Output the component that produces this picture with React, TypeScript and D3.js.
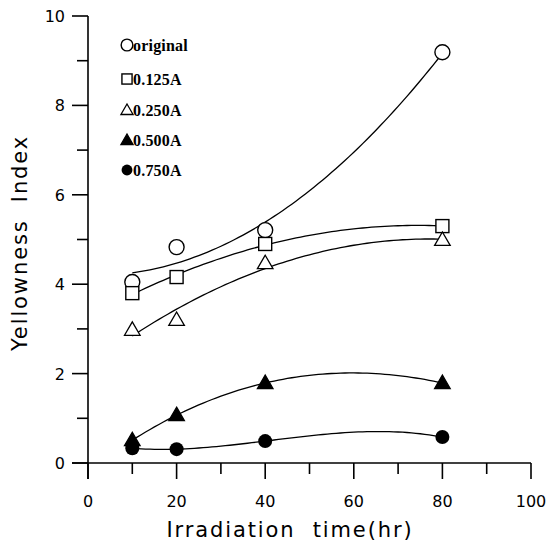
import * as d3 from 'd3';

const hours = [10, 20, 40, 80];
const original = [4.05, 4.83, 5.21, 9.19];
const a0125 = [3.8, 4.16, 4.9, 5.3];
const a0250 = [2.98, 3.2, 4.47, 4.99];
const a0500 = [0.51, 1.07, 1.79, 1.79];
const a0750 = [0.33, 0.31, 0.49, 0.58];

const seriesNames = ['original', '0.125A', '0.250A', '0.500A', '0.750A'];
const seriesValues = [original, a0125, a0250, a0500, a0750];
const markers = ['circle', 'square', 'triangle', 'triangleFilled', 'circleFilled'];
// polynomial order of each fitted curve
const fitOrder = [2, 2, 2, 3, 3];

const xTicks = [0, 20, 40, 60, 80, 100];
const yTicks = [0, 2, 4, 6, 8, 10];

// least squares polynomial fit (normal equations + gaussian elimination)
function polyFit(xs: number[], ys: number[], deg: number) {
  const n = deg + 1;
  const m: number[][] = [];
  for (let r = 0; r < n; r++) {
    const row: number[] = [];
    for (let c = 0; c < n; c++) row.push(d3.sum(xs, (x) => x ** (r + c)));
    row.push(d3.sum(xs, (x, i) => ys[i] * x ** r));
    m.push(row);
  }
  for (let c = 0; c < n; c++) {
    for (let r = c + 1; r < n; r++) {
      const f = m[r][c] / m[c][c];
      for (let k = c; k <= n; k++) m[r][k] -= f * m[c][k];
    }
  }
  const coef = new Array(n).fill(0);
  for (let r = n - 1; r >= 0; r--) {
    let s = m[r][n];
    for (let k = r + 1; k < n; k++) s -= m[r][k] * coef[k];
    coef[r] = s / m[r][r];
  }
  return (x: number) => coef.reduce((acc, c, i) => acc + c * x ** i, 0);
}

function Marker({ kind, x, y, s = 1 }: { kind: string; x: number; y: number; s?: number }) {
  if (kind === 'circle') return <circle cx={x} cy={y} r={7.5 * s} fill="white" stroke="black" strokeWidth={1.4} />;
  if (kind === 'circleFilled') return <circle cx={x} cy={y} r={7 * s} fill="black" />;
  if (kind === 'square') {
    const h = 6.5 * s;
    return <rect x={x - h} y={y - h} width={2 * h} height={2 * h} fill="white" stroke="black" strokeWidth={1.4} />;
  }
  const fill = kind === 'triangleFilled' ? 'black' : 'white';
  const p = d3.symbol(d3.symbolTriangle, 105 * s * s)();
  return <path d={p || ''} transform={`translate(${x},${y + 1})`} fill={fill} stroke="black" strokeWidth={1.3} />;
}

export default function App() {
  const width = 550;
  const height = 546;
  const x = d3.scaleLinear().domain([0, 100]).range([88, 531]);
  const y = d3.scaleLinear().domain([0, 10]).range([463, 16]);

  const curves = seriesValues.map((vals, i) => {
    const f = polyFit(hours, vals, fitOrder[i]);
    const pts = d3.range(10, 80.01, 1).map((h) => [h, f(h)] as [number, number]);
    return d3.line().x((d) => x(d[0])).y((d) => y(d[1]))(pts);
  });

  const xMinor = d3.range(10, 100, 20);
  const yMinor = d3.range(1, 10, 2);
  const sans = '"DejaVu Sans", sans-serif';
  const legendY = [45, 79, 110, 140, 170];

  return (
    <svg width={width} height={height} style={{ position: 'absolute', left: 0, top: 0, background: 'white' }}>
      <g stroke="black" strokeWidth={1.6} fill="none">
        <line x1={72} x2={x(100)} y1={y(0)} y2={y(0)} />
        <line x1={x(0)} x2={x(0)} y1={y(10)} y2={y(0) + 16} />
        {xTicks.map((t) => <line key={'xt' + t} x1={x(t)} x2={x(t)} y1={y(0)} y2={y(0) + 16} />)}
        {xMinor.map((t) => <line key={'xm' + t} x1={x(t)} x2={x(t)} y1={y(0)} y2={y(0) + 11} />)}
        {yTicks.map((t) => <line key={'yt' + t} x1={x(0) - 16} x2={x(0)} y1={y(t)} y2={y(t)} />)}
        {yMinor.map((t) => <line key={'ym' + t} x1={x(0) - 11} x2={x(0)} y1={y(t)} y2={y(t)} />)}
      </g>
      <g fontFamily={sans} fontSize={16} fill="black">
        {xTicks.map((t) => (
          <text key={'xl' + t} x={x(t)} y={y(0) + 44} textAnchor="middle">{t}</text>
        ))}
        {yTicks.map((t) => (
          <text key={'yl' + t} x={x(0) - 23} y={y(t) + 6} textAnchor="end">{t}</text>
        ))}
      </g>
      <text x={290} y={537} textAnchor="middle" fontFamily={sans} fontSize={21} letterSpacing={1.9}>Irradiation&#160; time(hr)</text>
      <text transform="translate(27,243) rotate(-90)" textAnchor="middle" fontFamily={sans} fontSize={21} letterSpacing={1.9}>Yellowness&#160; Index</text>

      <g fill="none" stroke="black" strokeWidth={1.3}>
        {curves.map((d, i) => <path key={'c' + i} d={d || ''} />)}
      </g>
      {seriesValues.map((vals, i) =>
        vals.map((v, j) => <Marker key={`m${i}-${j}`} kind={markers[i]} x={x(hours[j])} y={y(v)} />)
      )}

      <g fontFamily='"Liberation Serif", serif' fontWeight="bold" fontSize={16} letterSpacing={0.2}>
        {seriesNames.map((name, i) => (
          <g key={'lg' + i}>
            <Marker kind={markers[i]} x={127} y={legendY[i]} s={0.78} />
            <text x={133} y={legendY[i] + 5.5}>{name}</text>
          </g>
        ))}
      </g>
    </svg>
  );
}
